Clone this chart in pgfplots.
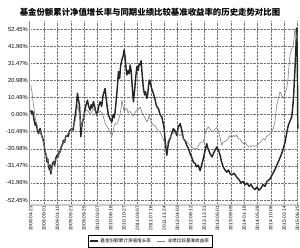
\documentclass[border=0pt]{standalone}
\usepackage{pgfplots}
\pgfplotsset{compat=1.18}
\usepackage{fontspec}
\setmainfont{Liberation Sans}
\newfontfamily\cjk{Noto Sans CJK SC}
\begin{document}
\begin{tikzpicture}
\path[use as bounding box] (-30pt,-42pt) rectangle (270pt,205pt);
\begin{axis}[
  at={(0pt,0pt)}, anchor=south west,
  scale only axis, width=268.5pt, height=184pt,
  xmin=29.8, xmax=298.5, ymin=-55.5, ymax=57.4,
  axis x line=bottom, axis y line=left,
  axis line style={-},
  x axis line style={draw=black!20, line width=2pt},
  y axis line style={draw=black!45, double, double distance=0.6pt, line width=0.4pt},
  xtick={30.5,43.85,...,297.5},
  xticklabels={2008-04-23,2008-09-01,2009-01-10,2009-05-21,2009-09-29,2010-02-07,2010-06-18,2010-10-27,2011-03-07,2011-07-16,2011-11-24,2012-04-03,2012-08-12,2012-12-21,2013-05-01,2013-09-09,2014-01-18,2014-05-28,2014-10-06,2015-02-14,2015-06-25},
  x tick label style={rotate=90, anchor=east, font=\fontsize{4.8}{5}\selectfont, inner sep=1pt, yshift=0pt},
  ytick={-52.45,-41.96,-31.47,-20.98,-10.49,0,10.49,20.98,31.47,41.96,52.45},
  yticklabels={-52.45\%,-41.96\%,-31.47\%,-20.98\%,-10.49\%,0.00\%,10.49\%,20.98\%,31.47\%,41.96\%,52.45\%},
  y tick label style={font=\fontsize{5.8}{6}\selectfont, inner sep=1pt, xshift=-1pt},
  major tick length=0pt,
  grid=major,
  major grid style={densely dotted, draw=black!55, line width=0.4pt},
  legend columns=2,
  legend style={at={(0.447,-0.196)}, anchor=center, draw=black, line width=0.4pt,
    font=\cjk\fontsize{4.6}{5}\selectfont, inner sep=1pt,
    /tikz/every even column/.append style={column sep=4pt}},
  legend image code/.code={\draw[#1] (0pt,0pt) -- (8pt,0pt);},
]
\addplot[black!85, line width=1.45pt, line join=round] coordinates {
(30.5,2.6)(31.5,0.5)(32.5,2)(33.5,-2)(35,-6.6)(36,-5)(37,-9)(38.3,-11.7)(39,-10)(40,-8.5)
(41,-12)(42.7,-14.8)(43.5,-17)(45,-23)(46,-25)(46.7,-29)(47.5,-27)(48.5,-32)(49.3,-34)(50,-31)
(50.7,-36.4)(51.5,-33)(52.5,-30)(53.3,-29)(54.5,-31)(55.5,-27)(56.7,-25)(58,-26)(59,-22.5)(60,-23)
(61,-20)(62.5,-18)(63.3,-15.8)(64.5,-17)(65.5,-13.5)(66.7,-12.8)(68,-13.5)(69.5,-10)(71.7,-8.6)(73,-9.5)
(74,-5)(75,-0.4)(76,4)(77.3,13)(78.3,9)(79.3,5.7)(80,-2)(80.7,-13.6)(81.5,-8)(82.5,-4)
(83.3,-2.5)(84.5,2)(85.5,5)(87.3,8.8)(88.5,5)(90,2.7)(91,6)(92,4)(93.3,8)(94.5,5)
(95.5,2)(96.7,-0.4)(98,3)(99,6)(100,7.8)(101.5,5)(103,12)(105,16)(106,10)(107,5)
(108.3,-0.4)(109.5,-2)(110.5,-3.5)(111.7,-4.5)(113,0)(114,-2)(115,1.8)(116,8)(117,15)(118.3,26.3)
(119.5,22)(120.5,30)(121.7,33.5)(123,36)(124,39.7)(125,35)(126,28)(126.7,24.3)(128,27)(129,25)
(130,30.4)(131,27)(132,18)(133.3,7.8)(134.5,15)(135.5,22)(136.7,29.4)(138,27)(139,31)(140,30.4)
(141,33)(142,25)(143.3,16)(144.5,12)(145.5,14)(146.7,9.9)(147.5,12)(148.5,18)(149.3,21.2)(150,20.2)
(151.5,16)(153.3,13)(155,9)(156.5,5)(158.3,3.7)(160,0)(161.7,-1.4)(163,-5)(164,-8)(165,-16)
(166.7,-25)(168,-19)(169,-16)(170,-14.8)(171.5,-12)(173.3,-8.6)(175,-10)(176.7,-12.8)(178,-8)(180,-5.5)
(181.5,-9)(183.3,-14.8)(185,-16)(186.7,-18.9)(188.5,-21)(190,-24)(191.5,-26)(193.3,-29.2)(195,-30)(196.5,-32)
(198,-31)(200,-34.4)(201.5,-31)(203.3,-27)(205,-22)(206.7,-17.9)(208,-21)(210,-24)(212,-26)(214,-23)
(216.7,-19.9)(218.5,-22)(220,-25)(221.5,-29)(223.3,-32.3)(225,-34)(226.7,-35.4)(228.5,-34)(230,-36.4)(232,-37)
(234,-36)(236.7,-38.4)(239,-40)(241,-42)(243,-41)(245,-43)(247,-42)(249,-44)(251,-43)(253,-45)
(255,-46)(257,-44.5)(259,-46.5)(261,-45)(263,-43)(265,-44)(267,-41)(270,-39.5)(272,-37)(274,-35)
(276.7,-31.3)(279,-28)(281,-25)(283.3,-21)(285,-17)(286.5,-12)(288.3,-6.6)(290,-4)(291.7,-1.4)(292.5,3)
(293.5,10)(294.3,20)(295,28.4)(295.7,38)(296.3,46.9)(296.8,53)(297.2,40)(297.5,20)(297.8,-8.6)
};
\addlegendentry{基金份额累计净值增长率}
\addplot[black!50, line width=0.6pt, line join=round] coordinates {
(30.5,18)(31.5,15)(32.5,10)(33.5,5)(35,-2)(36.5,-6)(38,-10)(40,-10)(42,-14)(44,-19)
(45.5,-23)(47,-27)(48.5,-31)(50,-33)(51,-35)(52,-32)(53.5,-30)(55,-28)(57,-27)(59,-24)
(61,-21)(63,-18)(65,-15)(67,-12)(69,-11)(71.5,-9)(73,-8)(74.5,-5)(76,-1)(77.3,6)
(78.5,3)(80,-2)(81,-8)(82.5,-4)(84,0)(86,3)(88,2)(90,0)(92,2)(94,4)
(96,0)(98,1)(100,2)(102,1)(104,-3)(105,-5.5)(106.5,-7)(108.3,-8.6)(110,-11)(111.7,-13.6)
(113,-10)(114,-7)(115,-5.5)(116.5,-6)(118,-4)(119.5,-1)(121,4)(121.7,8.8)(123,5)(124,1.8)
(125,3)(126.7,3.7)(128,1)(129.5,2)(131.7,0.6)(133,-1)(134.5,1)(136.7,2.7)(138,3)(140,4.7)
(141.5,2)(143.3,-0.4)(145,-2)(146.7,-4.5)(148,-3)(149.3,-0.4)(150,-2.5)(151.5,-5)(153.3,-6.6)(155,-7)
(156.7,-8.6)(159,-10)(161,-12)(163,-15)(165,-18)(166.7,-18.9)(168,-16)(170,-14)(172,-12)(174,-11)
(176.7,-10.7)(178.5,-12)(180,-13)(181.5,-12)(183.3,-14.8)(185,-15.5)(187,-17)(190,-18.9)(192,-20)(194,-21)
(196.7,-21)(198.5,-19)(200.5,-17)(203.3,-16.8)(205,-12)(206.5,-9)(208.3,-7.6)(210,-9)(211.5,-10)(213.3,-10.7)
(215,-9)(216.5,-8)(218.3,-9.7)(220,-14)(221.7,-18.9)(223,-17)(225,-16.5)(226.7,-15.8)(228.5,-14)(230,-13)
(231.5,-14)(233.3,-12.8)(235,-13.5)(236.5,-12.5)(238.3,-14.8)(240,-15)(241.5,-16.5)(243.3,-17.9)(245,-17)(246.5,-18.5)
(248,-19.5)(250,-19.9)(252,-19)(254,-19.5)(256.7,-18.9)(258.5,-18)(260.5,-17)(263.3,-14.8)(265,-15.5)(266.5,-13.5)
(268.3,-12.8)(270,-12)(271.5,-10)(273.3,-8.6)(275,-4)(276.7,5.7)(278,9)(280,14)(281.5,12)(283.3,9.9)
(285,13)(286.7,16)(288,22)(289,30)(290,36.6)(291.5,40)(293.3,42.8)(294.3,48)(295,53)(295.8,50)
(296.7,47)(297.5,45)
};
\addlegendentry{业绩比较基准收益率}
\end{axis}
\node[font=\cjk\bfseries\fontsize{8.4}{9}\selectfont] at (120pt,193pt) {基金份额累计净值增长率与同期业绩比较基准收益率的历史走势对比图};
\end{tikzpicture}
\end{document}
